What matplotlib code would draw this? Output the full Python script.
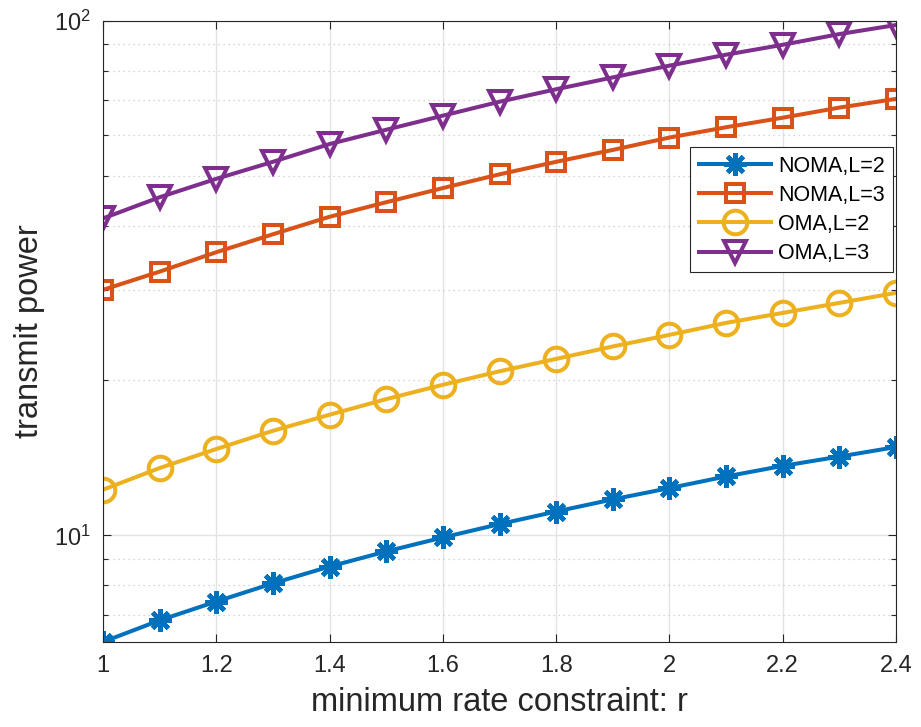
import numpy as np
import matplotlib
matplotlib.use("Agg")
import matplotlib.pyplot as plt
from matplotlib.ticker import NullFormatter, LogLocator

plt.rcParams['font.family'] = ['Liberation Sans', 'DejaVu Sans']
plt.rcParams['mathtext.fontset'] = 'custom'
plt.rcParams['mathtext.rm'] = 'Liberation Sans'
plt.rcParams['mathtext.default'] = 'regular'

# minimum rate constraint r
r = [1.0, 1.1, 1.2, 1.3, 1.4, 1.5, 1.6, 1.7, 1.8, 1.9, 2.0, 2.1, 2.2, 2.3, 2.4]

# transmit power
noma_l2 = [6.21, 6.84, 7.44, 8.07, 8.70, 9.31, 9.91, 10.52, 11.13, 11.75,
           12.36, 13.02, 13.65, 14.23, 14.85]
noma_l3 = [30.0, 32.55, 35.5, 38.47, 41.6, 44.4, 47.3, 50.3, 53.2, 56.1,
           59.3, 62.1, 64.8, 67.8, 70.5]
oma_l2 = [12.27, 13.52, 14.72, 15.97, 17.16, 18.40, 19.62, 20.84, 22.03, 23.29,
          24.53, 25.88, 27.06, 28.30, 29.6]
oma_l3 = [41.3, 45.4, 49.3, 53.2, 57.6, 61.4, 65.4, 69.6, 73.6, 77.6,
          81.8, 85.9, 89.8, 94.2, 98.1]

labels = ['NOMA,L=2', 'NOMA,L=3', 'OMA,L=2', 'OMA,L=3']
colors = ['#0072BD', '#D95319', '#EDB120', '#7E2F8E']
xtick_vals = [1.0, 1.2, 1.4, 1.6, 1.8, 2.0, 2.2, 2.4]
xtick_text = ['1', '1.2', '1.4', '1.6', '1.8', '2', '2.2', '2.4']

fig = plt.figure(figsize=(9.21, 7.27), dpi=100)
ax = fig.add_axes([0.1118, 0.1165, 0.8611, 0.855])

lw = 2.9
ax.plot(r, noma_l2, color=colors[0], lw=lw, marker=(8, 2, 0), ms=16, mew=3.3,
        label=labels[0])
ax.plot(r, noma_l3, color=colors[1], lw=lw, marker='s', ms=13, mew=lw,
        mfc='none', label=labels[1])
ax.plot(r, oma_l2, color=colors[2], lw=lw, marker='o', ms=17, mew=lw,
        mfc='none', label=labels[2])
ax.plot(r, oma_l3, color=colors[3], lw=lw, marker='v', ms=16, mew=lw,
        mfc='none', label=labels[3])

ax.set_yscale('log')
ax.set_xlim(1, 2.4)
ax.set_ylim(6.2, 100)
ax.set_xticks(xtick_vals)
ax.set_xticklabels(xtick_text)
ax.yaxis.set_major_locator(LogLocator(base=10))
ax.yaxis.set_minor_locator(LogLocator(base=10, subs=np.arange(2, 10)))
ax.yaxis.set_minor_formatter(NullFormatter())

ax.grid(True, which='major', axis='both', color='#e3e3e3', lw=1.0, ls='-')
ax.grid(True, which='minor', axis='y', color='#c8c8c8', lw=0.9, ls=(0, (1, 3)))
ax.set_axisbelow(True)

for s in ax.spines.values():
    s.set_color('#262626')
    s.set_linewidth(0.8)
ax.tick_params(which='both', direction='in', top=True, right=True,
               colors='#262626', labelsize=17)
ax.tick_params(which='major', length=6, width=0.8, pad=9)
ax.tick_params(which='minor', length=3.5, width=0.8)

ax.set_xlabel('minimum rate constraint: r', fontsize=23.5, color='#262626', labelpad=7)
ax.set_ylabel('transmit power', fontsize=23.5, color='#262626', labelpad=6)

leg = ax.legend(loc='upper right', bbox_to_anchor=(0.9958, 0.7963),
                borderaxespad=0, fontsize=15.5, handlelength=3.35,
                handletextpad=0.33, labelspacing=0.38, borderpad=0.38,
                fancybox=False, framealpha=1, edgecolor='#262626')
leg.get_frame().set_linewidth(0.8)

fig.savefig('out.png', dpi=100)
